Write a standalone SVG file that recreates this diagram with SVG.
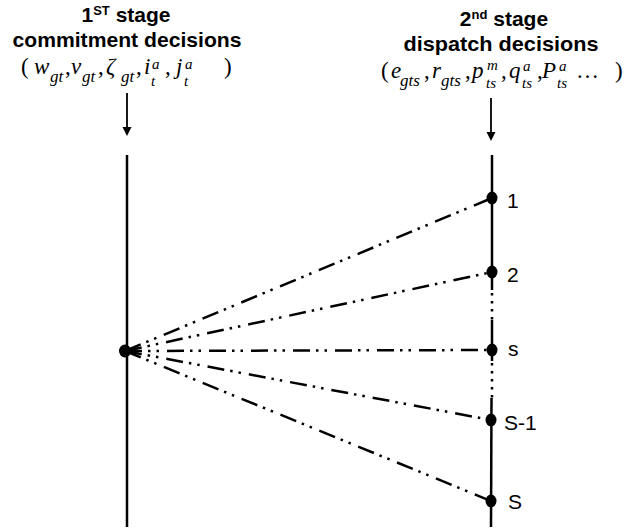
<svg xmlns="http://www.w3.org/2000/svg" width="628" height="529" viewBox="0 0 628 529">
<defs>
<style>
.title{font-family:"Liberation Sans",Arial,sans-serif;font-weight:bold;font-size:21px;fill:#000}
.sup{font-size:13px}
.m{font-family:"Liberation Serif","Times New Roman",serif;font-style:italic;font-size:23px;fill:#000}
.r{font-family:"Liberation Serif","Times New Roman",serif;font-size:23px;fill:#000}
.s{font-family:"Liberation Serif","Times New Roman",serif;font-style:italic;font-size:17px;fill:#000}
.ss{font-family:"Liberation Serif","Times New Roman",serif;font-style:italic;font-size:15px;fill:#000}
.lbl{font-family:"Liberation Sans",Arial,sans-serif;font-size:21px;fill:#000}
.axis{stroke:#000;stroke-width:2.5;fill:none}
.dots{stroke:#000;stroke-width:2.5;fill:none;stroke-dasharray:2.5 5.5}
.arrow{stroke:#000;stroke-width:1.8;fill:none}
.conn{stroke:#000;stroke-width:2.5;fill:none;stroke-dasharray:17 6 2.5 6 2.5 8}
.dot{fill:#000}
</style>
</defs>

<g id="stage1">
<text class="title" x="126" y="22" text-anchor="middle">1<tspan class="sup" dy="-7">ST</tspan><tspan dy="7"> stage</tspan></text>
<text class="title" x="127" y="47" text-anchor="middle" textLength="229" lengthAdjust="spacingAndGlyphs">commitment  decisions</text>
<g id="formula1">
<text class="r" x="21" y="74">(</text>
<text class="m" x="34" y="74">w</text>
<text class="s" x="50" y="82">gt</text>
<text class="r" x="65" y="74">,</text>
<text class="m" x="71" y="74">v</text>
<text class="s" x="82" y="82">gt</text>
<text class="r" x="98" y="74">,</text>
<text class="m" x="106" y="74">ζ</text>
<text class="s" x="121" y="82">gt</text>
<text class="r" x="136" y="74">,</text>
<text class="m" x="144" y="74">i</text>
<text class="ss" x="152" y="69">a</text>
<text class="ss" x="151" y="86">t</text>
<text class="r" x="165" y="74">,</text>
<text class="m" x="176" y="74">j</text>
<text class="ss" x="185" y="69">a</text>
<text class="ss" x="184" y="86">t</text>
<text class="r" x="224" y="74">)</text>
</g>
<path class="arrow" d="M127,93 V127"/>
<path d="M122.5,127 L131.5,127 L127,136 Z" fill="#000"/>
<path class="axis" d="M127,155 V527"/>
<ellipse id="root" class="dot" cx="125" cy="351" rx="6" ry="6.5"/>
</g>

<g id="stage2">
<text class="title" x="504" y="26" text-anchor="middle">2<tspan class="sup" dy="-7">nd</tspan><tspan dy="7"> stage</tspan></text>
<text class="title" x="501" y="51" text-anchor="middle" textLength="195" lengthAdjust="spacingAndGlyphs">dispatch  decisions</text>
<g id="formula2">
<text class="r" x="381" y="78">(</text>
<text class="m" x="391" y="78">e</text>
<text class="s" x="400" y="86">gts</text>
<text class="r" x="424" y="78">,</text>
<text class="m" x="432" y="78">r</text>
<text class="s" x="441" y="86">gts</text>
<text class="r" x="465" y="78">,</text>
<text class="m" x="472" y="78">p</text>
<text class="ss" x="487" y="70">m</text>
<text class="ss" x="486" y="88">ts</text>
<text class="r" x="501" y="78">,</text>
<text class="m" x="509" y="78">q</text>
<text class="ss" x="523" y="71">a</text>
<text class="ss" x="522" y="88">ts</text>
<text class="r" x="537" y="78">,</text>
<text class="m" x="542" y="78">P</text>
<text class="ss" x="559" y="71">a</text>
<text class="ss" x="557" y="88">ts</text>
<text class="r" x="576" y="78">…</text>
<text class="r" x="615" y="78">)</text>
</g>
<path class="arrow" d="M491,98 V132"/>
<path d="M486.5,132 L495.5,132 L491,141 Z" fill="#000"/>
<path class="axis" d="M492,155 V290"/>
<path class="dots" d="M492,293 V320"/>
<path class="axis" d="M492,320 V361"/>
<path class="dots" d="M492,363 V398"/>
<path class="axis" d="M491.5,398 L491,527"/>
</g>

<g id="connectors">
<path class="conn" d="M125,351 L492,198"/>
<path class="conn" d="M125,351 L492,272"/>
<path class="conn" d="M125,351 L492,350"/>
<path class="conn" d="M125,351 L491,420"/>
<path class="conn" d="M125,351 L491,501"/>
</g>

<g id="scenario-1">
<ellipse class="dot" cx="492" cy="198" rx="5.5" ry="6.5"/>
<text class="lbl" x="507" y="208">1</text>
</g>
<g id="scenario-2">
<ellipse class="dot" cx="492" cy="272" rx="5.5" ry="6.5"/>
<text class="lbl" x="507" y="282">2</text>
</g>
<g id="scenario-s">
<ellipse class="dot" cx="492" cy="350" rx="5.5" ry="6.5"/>
<text class="lbl" x="508" y="356">s</text>
</g>
<g id="scenario-S-1">
<ellipse class="dot" cx="491" cy="420" rx="5.5" ry="6.5"/>
<text class="lbl" x="504" y="430">S-1</text>
</g>
<g id="scenario-S">
<ellipse class="dot" cx="491" cy="501" rx="5.5" ry="6.5"/>
<text class="lbl" x="508" y="509">S</text>
</g>
</svg>
